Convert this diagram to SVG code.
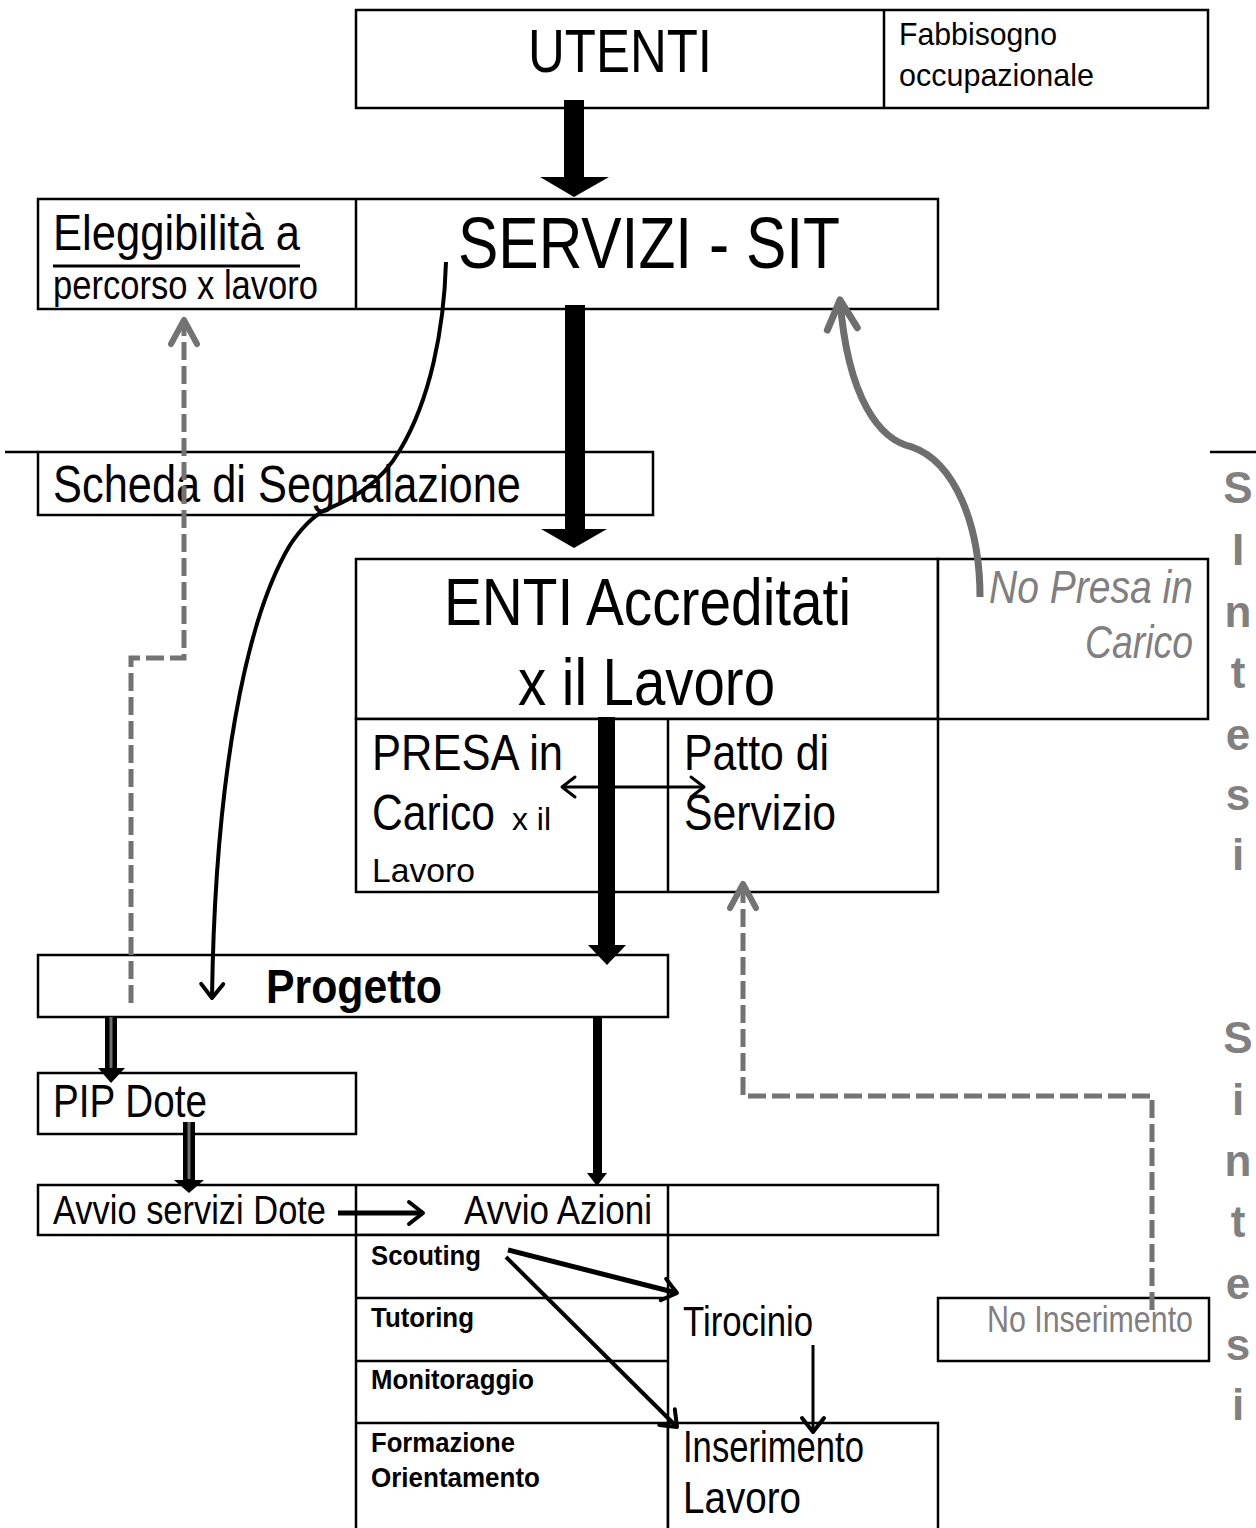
<svg xmlns="http://www.w3.org/2000/svg" width="1256" height="1528" viewBox="0 0 1256 1528">
<style>
text{font-family:"Liberation Sans Narrow","Liberation Sans",Arial,sans-serif;fill:#000}
.box{fill:#fff;stroke:#000;stroke-width:2.5}
.ln{stroke:#000;stroke-width:2.5;fill:none}
.b{font-weight:bold}
.g{fill:#7f7f7f}
.it{font-style:italic}
.si{font-family:"Liberation Sans",Arial,sans-serif;font-weight:bold;fill:#808080;font-size:44px;text-anchor:middle}
.thin{fill:none;stroke:#000;stroke-linecap:butt}
.gd{fill:none;stroke:#737373;stroke-width:5;stroke-dasharray:18 6}
</style>
<defs>
<marker id="ah" viewBox="-20 -16 26 32" refX="0" refY="0" markerWidth="26" markerHeight="32" markerUnits="userSpaceOnUse" orient="auto">
<path d="M-14,-11 L0,0 L-14,11" fill="none" stroke="#000" stroke-width="4" stroke-linecap="round" stroke-linejoin="round"/>
</marker>
<marker id="ahs" viewBox="-20 -16 26 32" refX="0" refY="0" markerWidth="26" markerHeight="32" markerUnits="userSpaceOnUse" orient="auto-start-reverse">
<path d="M-13,-10 L0,0 L-13,10" fill="none" stroke="#000" stroke-width="3" stroke-linecap="round" stroke-linejoin="round"/>
</marker>
<marker id="ahg" viewBox="-30 -20 36 40" refX="0" refY="0" markerWidth="36" markerHeight="40" markerUnits="userSpaceOnUse" orient="auto">
<path d="M-24,-13 L0,0 L-24,13" fill="none" stroke="#737373" stroke-width="6" stroke-linecap="round" stroke-linejoin="round"/>
</marker>
<marker id="ahgl" viewBox="-36 -20 42 40" refX="0" refY="0" markerWidth="42" markerHeight="40" markerUnits="userSpaceOnUse" orient="auto">
<path d="M-29,-15 L0,0 L-29,15" fill="none" stroke="#6e6e6e" stroke-width="7" stroke-linecap="round" stroke-linejoin="round"/>
</marker>
</defs>

<g id="page-lines">
<line x1="5" y1="452" x2="38" y2="452" class="ln"/>
<line x1="1210" y1="452" x2="1256" y2="452" class="ln"/>
</g>

<g id="utenti">
<rect x="356" y="10" width="852" height="98" class="box"/>
<line x1="884" y1="10" x2="884" y2="108" class="ln"/>
<text x="528" y="72" font-size="62" textLength="184" lengthAdjust="spacingAndGlyphs">UTENTI</text>
<text x="899" y="45" font-size="32" textLength="158" lengthAdjust="spacingAndGlyphs">Fabbisogno</text>
<text x="899" y="86" font-size="32" textLength="195" lengthAdjust="spacingAndGlyphs">occupazionale</text>
</g>

<g id="servizi">
<rect x="38" y="199" width="900" height="110" class="box"/>
<line x1="356" y1="199" x2="356" y2="309" class="ln"/>
<text x="53" y="250" font-size="50" textLength="247" lengthAdjust="spacingAndGlyphs">Eleggibilità a</text>
<line x1="53" y1="266" x2="300" y2="266" stroke="#000" stroke-width="3"/>
<text x="53" y="299" font-size="40" textLength="265" lengthAdjust="spacingAndGlyphs">percorso x lavoro</text>
<text x="458" y="268" font-size="72" textLength="382" lengthAdjust="spacingAndGlyphs">SERVIZI - SIT</text>
</g>

<g id="scheda">
<rect x="38" y="452" width="615" height="63" class="box"/>
<text x="53" y="502" font-size="52" textLength="468" lengthAdjust="spacingAndGlyphs">Scheda di Segnalazione</text>
</g>

<g id="enti">
<rect x="356" y="559" width="582" height="160" class="box"/>
<text x="444" y="625" font-size="66" textLength="407" lengthAdjust="spacingAndGlyphs">ENTI Accreditati</text>
<text x="518" y="705" font-size="66" textLength="257" lengthAdjust="spacingAndGlyphs">x il Lavoro</text>
</g>

<g id="no-presa">
<rect x="938" y="559" width="270" height="160" class="box"/>
<text x="989" y="603" font-size="46" class="g it" textLength="204" lengthAdjust="spacingAndGlyphs">No Presa in</text>
<text x="1085" y="658" font-size="46" class="g it" textLength="108" lengthAdjust="spacingAndGlyphs">Carico</text>
</g>

<g id="presa-patto">
<rect x="356" y="719" width="582" height="173" class="box"/>
<line x1="668" y1="719" x2="668" y2="892" class="ln"/>
<text x="372" y="770" font-size="50" textLength="191" lengthAdjust="spacingAndGlyphs">PRESA in</text>
<text x="372" y="830" font-size="50" textLength="123" lengthAdjust="spacingAndGlyphs">Carico</text>
<text x="512" y="830" font-size="32" textLength="39" lengthAdjust="spacingAndGlyphs">x il</text>
<text x="372" y="882" font-size="34" textLength="103" lengthAdjust="spacingAndGlyphs">Lavoro</text>
<text x="684" y="770" font-size="50" textLength="145" lengthAdjust="spacingAndGlyphs">Patto di</text>
<text x="684" y="830" font-size="50" textLength="152" lengthAdjust="spacingAndGlyphs">Servizio</text>
</g>

<g id="progetto">
<rect x="38" y="955" width="630" height="62" class="box"/>
<text x="266" y="1003" font-size="48" class="b" textLength="176" lengthAdjust="spacingAndGlyphs">Progetto</text>
</g>

<g id="pip-dote">
<rect x="38" y="1073" width="318" height="61" class="box"/>
<text x="53" y="1117" font-size="46" textLength="154" lengthAdjust="spacingAndGlyphs">PIP Dote</text>
</g>

<g id="avvio">
<rect x="38" y="1185" width="900" height="50" class="box"/>
<line x1="356" y1="1185" x2="356" y2="1235" class="ln"/>
<line x1="668" y1="1185" x2="668" y2="1235" class="ln"/>
<text x="53" y="1224" font-size="40" textLength="273" lengthAdjust="spacingAndGlyphs">Avvio servizi Dote</text>
<text x="464" y="1224" font-size="40" textLength="188" lengthAdjust="spacingAndGlyphs">Avvio Azioni</text>
</g>

<g id="azioni">
<rect x="356" y="1235" width="312" height="310" class="box"/>
<line x1="356" y1="1298" x2="668" y2="1298" class="ln"/>
<line x1="356" y1="1361" x2="668" y2="1361" class="ln"/>
<line x1="356" y1="1423" x2="668" y2="1423" class="ln"/>
<text x="371" y="1265" font-size="28" class="b" textLength="110" lengthAdjust="spacingAndGlyphs">Scouting</text>
<text x="371" y="1327" font-size="28" class="b" textLength="103" lengthAdjust="spacingAndGlyphs">Tutoring</text>
<text x="371" y="1389" font-size="28" class="b" textLength="163" lengthAdjust="spacingAndGlyphs">Monitoraggio</text>
<text x="371" y="1452" font-size="28" class="b" textLength="144" lengthAdjust="spacingAndGlyphs">Formazione</text>
<text x="371" y="1487" font-size="28" class="b" textLength="169" lengthAdjust="spacingAndGlyphs">Orientamento</text>
</g>

<g id="tirocinio">
<text x="683" y="1336" font-size="42" textLength="130" lengthAdjust="spacingAndGlyphs">Tirocinio</text>
</g>

<g id="inserimento">
<rect x="668" y="1423" width="270" height="120" class="box"/>
<text x="683" y="1462" font-size="44" textLength="181" lengthAdjust="spacingAndGlyphs">Inserimento</text>
<text x="683" y="1513" font-size="44" textLength="118" lengthAdjust="spacingAndGlyphs">Lavoro</text>
</g>

<g id="no-inserimento">
<rect x="938" y="1298" width="271" height="63" class="box"/>
<text x="987" y="1332" font-size="36" class="g" textLength="206" lengthAdjust="spacingAndGlyphs">No Inserimento</text>
</g>

<g id="sintesi-1">
<text x="1238" y="503" class="si">S</text>
<text x="1238" y="565" class="si">I</text>
<text x="1238" y="627" class="si">n</text>
<text x="1238" y="688" class="si">t</text>
<text x="1238" y="750" class="si">e</text>
<text x="1238" y="810" class="si">s</text>
<text x="1238" y="870" class="si">i</text>
</g>
<g id="sintesi-2">
<text x="1238" y="1053" class="si">S</text>
<text x="1238" y="1115" class="si">i</text>
<text x="1238" y="1176" class="si">n</text>
<text x="1238" y="1237" class="si">t</text>
<text x="1238" y="1299" class="si">e</text>
<text x="1238" y="1360" class="si">s</text>
<text x="1238" y="1420" class="si">i</text>
</g>

<g id="connectors">
<polygon points="564,100 584,100 584,177 609,177 574,197 540,177 564,177" fill="#000"/>
<polygon points="565,305 585,305 585,529 607,529 574,548 541,529 565,529" fill="#000"/>
<polygon points="598,717 615,717 615,945 626,945 607,965 588,945 598,945" fill="#000"/>
<polygon points="593,1017 602,1017 602,1173 607,1173 597,1186 587,1173 593,1173" fill="#000"/>
<rect x="105" y="1017" width="12" height="54" fill="#000"/>
<line x1="111" y1="1017" x2="111" y2="1068" stroke="#6e6e6e" stroke-width="3"/>
<polygon points="98,1068 125,1068 111,1083" fill="#000"/>
<rect x="183" y="1122" width="12" height="60" fill="#000"/>
<line x1="189" y1="1122" x2="189" y2="1179" stroke="#6e6e6e" stroke-width="3"/>
<polygon points="174,1180 204,1180 189,1193" fill="#000"/>
<path d="M446,262 C444,330 430,400 400,450 C380,485 350,500 325,510 C310,518 300,530 290,545 C245,620 215,780 212,998" class="thin" stroke-width="4" marker-end="url(#ah)"/>
<path d="M562,787 L704,787" class="thin" stroke-width="3" marker-start="url(#ahs)" marker-end="url(#ahs)"/>
<path d="M338,1213 L423,1213" class="thin" stroke-width="5" marker-end="url(#ah)"/>
<path d="M508,1250 L677,1293" class="thin" stroke-width="5" marker-end="url(#ah)"/>
<path d="M506,1257 L677,1427" class="thin" stroke-width="4" marker-end="url(#ah)"/>
<path d="M813,1345 L813,1432" class="thin" stroke-width="3" marker-end="url(#ah)"/>
<path d="M131,1003 L131,658 L184,658 L184,320" class="gd" marker-end="url(#ahg)"/>
<path d="M1152,1310 L1152,1096 L743,1096 L743,884" class="gd" marker-end="url(#ahg)"/>
<path d="M980,597 C980,525 955,462 912,447 C880,440 848,400 840,300" fill="none" stroke="#6e6e6e" stroke-width="7" marker-end="url(#ahgl)"/>
</g>
</svg>
